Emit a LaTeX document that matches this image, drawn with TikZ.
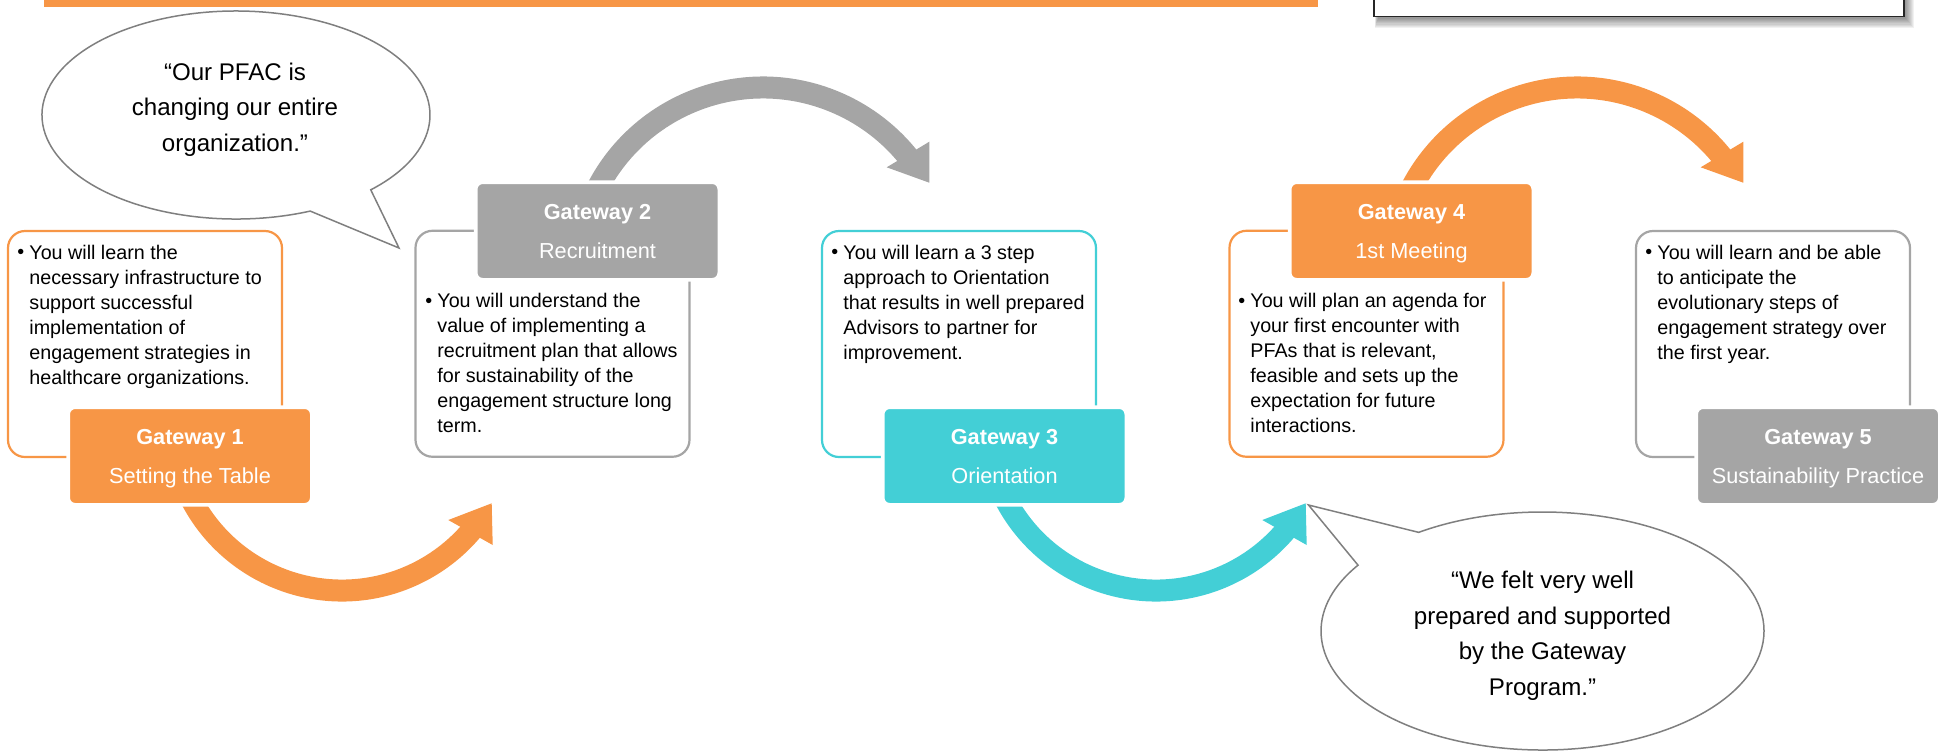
\documentclass[tikz,border=0pt]{standalone}
\usepackage{fontspec}
\setmainfont{Liberation Sans}
\definecolor{gwOrange}{HTML}{F79646}
\definecolor{gwGray}{HTML}{A5A5A5}
\definecolor{gwCyan}{HTML}{43CFD6}
\definecolor{gwLine}{HTML}{7F7F7F}
\newcommand\gwBody{\fontsize{9.86pt}{12.5pt}\selectfont}
\newcommand\gwHdr{\fontsize{10.85pt}{19.35pt}\selectfont}
\newcommand\gwBub{\fontsize{12.05pt}{17.8pt}\selectfont}
\begin{document}
\begin{tikzpicture}[x=0.5pt,y=-0.5pt,
  tbox/.style={draw=#1, line width=1.1pt, rounded corners=8.5pt, fill=white,
    minimum width=137pt, minimum height=113pt, inner sep=0pt},
  hdr/.style={fill=#1, draw=white, line width=1.8pt, rounded corners=3.5pt,
    minimum width=121.8pt, minimum height=48.8pt, inner sep=0pt,
    text=white, font=\gwHdr, align=center},
  body/.style={anchor=north west, inner sep=0pt, align=left, font=\gwBody},
  bul/.style={anchor=base west, inner sep=0pt, font=\gwBody},
  bubble/.style={draw=gwLine, line width=0.75pt, fill=white},
  bubtext/.style={align=center, font=\gwBub, inner sep=0pt},
  band/.style={draw=#1, line width=11pt},
  head/.style={fill=#1}
]
\useasboundingbox (0,0) rectangle (1949,752);
\clip (0,0) rectangle (1949,752);

% top right box with soft shadow
\foreach \i in {0,...,8}{
  \fill[black, opacity=0.055] (1378-0.4*\i,-30) rectangle (1906+\i,18.5+1.2*\i);
}
\node[draw=black!85, fill=white, line width=0.6pt, minimum width=265pt,
  minimum height=40pt, inner sep=0pt] (topbox) at (1639,-23.3) {};

% orange top bar
\fill[gwOrange] (44,-5) rectangle (1318,6.7);

% curved arrows
\coordinate (cA) at (342,420.5);
\coordinate (cB) at (763,274);
\coordinate (cC) at (1156,420.5);
\coordinate (cD) at (1577,274);
\draw[band=gwOrange] (cA) ++(156:170) arc[start angle=156, end angle=39.5, radius=170];
\fill[head=gwOrange] (448.3,520) -- (491.7,503.3) -- (492.7,545) -- cycle;
\draw[band=gwGray] (cB) ++(-156:186.5) arc[start angle=-156, end angle=-38, radius=186.5];
\fill[head=gwGray] (886.7,167.3) -- (929.3,182.7) -- (929.3,141.7) -- cycle;
\draw[band=gwCyan] (cC) ++(156:170) arc[start angle=156, end angle=39.5, radius=170];
\fill[head=gwCyan] (1262.3,520) -- (1305.7,503.3) -- (1306.7,545) -- cycle;
\draw[band=gwOrange] (cD) ++(-156:186.5) arc[start angle=-156, end angle=-38, radius=186.5];
\fill[head=gwOrange] (1700.7,167.3) -- (1743.3,182.7) -- (1743.3,141.7) -- cycle;

% speech bubbles
\draw[bubble] (236,115) ++(67.5:194 and 104)
  arc[start angle=67.5, end angle=406, x radius=194, y radius=104]
  -- (399,248) -- cycle;
\node[bubtext] (q1) at (235,108.7)
  {\strut “Our PFAC is\\\strut changing our entire\\\strut organization.”};

\draw[bubble] (1542.5,631) ++(236:221.5 and 119)
  arc[start angle=236, end angle=573.6, x radius=221.5, y radius=119]
  -- (1308.5,505) -- cycle;
\node[bubtext] (q2) at (1542.5,635)
  {\strut “We felt very well\\\strut prepared and supported\\\strut by the Gateway\\\strut Program.”};

% text boxes
\node[tbox=gwOrange] (box1) at (145,344) {};
\node[tbox=gwGray]   (box2) at (552.5,343.75) {};
\node[tbox=gwCyan]   (box3) at (959,344) {};
\node[tbox=gwOrange] (box4) at (1366.5,343.75) {};
\node[tbox=gwGray]   (box5) at (1773,344) {};

% headers
\node[hdr=gwOrange] (h1) at (190,456) {\strut\textbf{Gateway 1}\\\strut Setting the Table};
\node[hdr=gwGray]   (h2) at (597.5,231) {\strut\textbf{Gateway 2}\\\strut Recruitment};
\node[hdr=gwCyan]   (h3) at (1004.5,456) {\strut\textbf{Gateway 3}\\\strut Orientation};
\node[hdr=gwOrange] (h4) at (1411.5,231) {\strut\textbf{Gateway 4}\\\strut 1st Meeting};
\node[hdr=gwGray]   (h5) at (1818,456) {\strut\textbf{Gateway 5}\\\strut Sustainability Practice};

% body texts
\node[bul] (b1) at (17,258.8) {•};
\node[body] (t1) at (29,241.3) {\strut You will learn the\\necessary infrastructure to\\support successful\\implementation of\\engagement strategies in\\healthcare organizations.};
\node[bul] (b2) at (425,307.1) {•};
\node[body] (t2) at (437,289.6) {\strut You will understand the\\value of implementing a\\recruitment plan that allows\\for sustainability of the\\engagement structure long\\term.};
\node[bul] (b3) at (831,258.8) {•};
\node[body] (t3) at (843,241.3) {\strut You will learn a 3 step\\approach to Orientation\\that results in well prepared\\Advisors to partner for\\improvement.};
\node[bul] (b4) at (1238,307.1) {•};
\node[body] (t4) at (1250,289.6) {\strut You will plan an agenda for\\your first encounter with\\PFAs that is relevant,\\feasible and sets up the\\expectation for future\\interactions.};
\node[bul] (b5) at (1645,258.8) {•};
\node[body] (t5) at (1657,241.3) {\strut You will learn and be able\\to anticipate the\\evolutionary steps of\\engagement strategy over\\the first year.};
\end{tikzpicture}
\end{document}
